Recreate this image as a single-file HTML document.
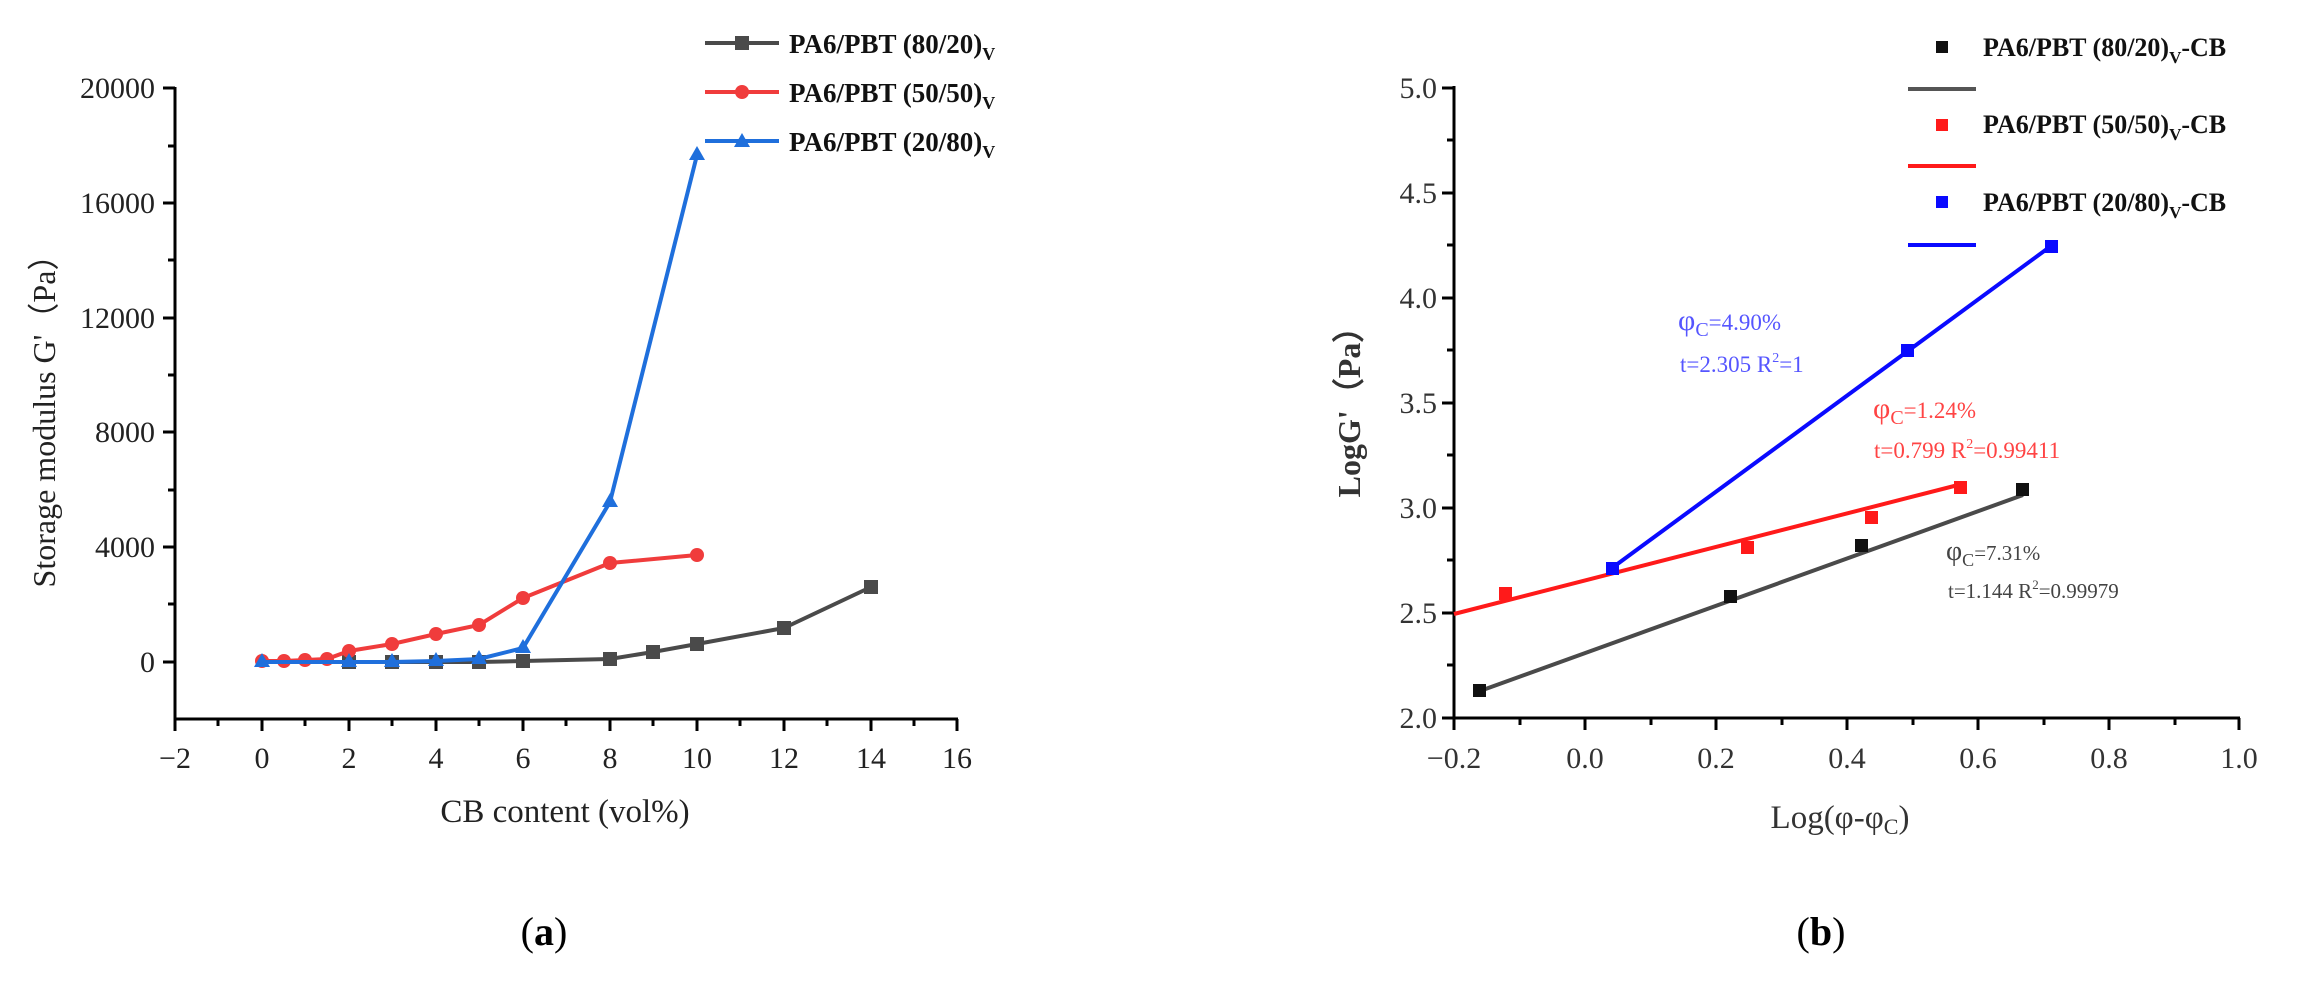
<!DOCTYPE html>
<html><head><meta charset="utf-8"><style>
html,body{margin:0;padding:0;background:#fff;}
svg{display:block;}
text{font-family:"Liberation Serif","DejaVu Serif",serif;}
</style></head><body>
<svg width="2300" height="986" viewBox="0 0 2300 986" xmlns="http://www.w3.org/2000/svg">
<rect width="2300" height="986" fill="#fff"/>
<g stroke="#000" stroke-width="3" fill="none">
<line x1="175" y1="87" x2="175" y2="719"/>
<line x1="174" y1="719" x2="958" y2="719"/>
<line x1="163" y1="88" x2="175" y2="88"/>
<line x1="163" y1="203" x2="175" y2="203"/>
<line x1="163" y1="318" x2="175" y2="318"/>
<line x1="163" y1="432" x2="175" y2="432"/>
<line x1="163" y1="547" x2="175" y2="547"/>
<line x1="163" y1="662" x2="175" y2="662"/>
<line x1="168" y1="146" x2="175" y2="146"/>
<line x1="168" y1="260" x2="175" y2="260"/>
<line x1="168" y1="375" x2="175" y2="375"/>
<line x1="168" y1="490" x2="175" y2="490"/>
<line x1="168" y1="604" x2="175" y2="604"/>
<line x1="175" y1="719" x2="175" y2="731"/><line x1="262" y1="719" x2="262" y2="731"/>
<line x1="349" y1="719" x2="349" y2="731"/><line x1="436" y1="719" x2="436" y2="731"/>
<line x1="523" y1="719" x2="523" y2="731"/><line x1="610" y1="719" x2="610" y2="731"/>
<line x1="697" y1="719" x2="697" y2="731"/><line x1="784" y1="719" x2="784" y2="731"/>
<line x1="871" y1="719" x2="871" y2="731"/><line x1="957" y1="719" x2="957" y2="731"/>
<line x1="218" y1="719" x2="218" y2="726"/><line x1="305" y1="719" x2="305" y2="726"/>
<line x1="392" y1="719" x2="392" y2="726"/><line x1="479" y1="719" x2="479" y2="726"/>
<line x1="566" y1="719" x2="566" y2="726"/><line x1="653" y1="719" x2="653" y2="726"/>
<line x1="740" y1="719" x2="740" y2="726"/><line x1="827" y1="719" x2="827" y2="726"/>
<line x1="914" y1="719" x2="914" y2="726"/>
</g>
<g font-size="30" text-anchor="end" fill="#222">
<text x="155" y="98">20000</text>
<text x="155" y="213">16000</text>
<text x="155" y="328">12000</text>
<text x="155" y="442">8000</text>
<text x="155" y="557">4000</text>
<text x="155" y="672">0</text>
</g>
<g font-size="30" text-anchor="middle" fill="#222">
<text x="175" y="768">−2</text><text x="262" y="768">0</text><text x="349" y="768">2</text>
<text x="436" y="768">4</text><text x="523" y="768">6</text><text x="610" y="768">8</text>
<text x="697" y="768">10</text><text x="784" y="768">12</text><text x="871" y="768">14</text>
<text x="957" y="768">16</text>
</g>
<text x="565" y="822" font-size="33" text-anchor="middle" fill="#222">CB content  (vol%)</text>
<text transform="translate(55,413) rotate(-90)" font-size="32" text-anchor="middle" fill="#222">Storage modulus G'（Pa）</text>
<text x="544" y="945" font-size="40" text-anchor="middle" fill="#000">(<tspan font-weight="bold">a</tspan>)</text>

<polyline fill="none" stroke="#4a4a4a" stroke-width="4" points="262,662 349,662 392,662 436,662 479,662 523,661 610,659 653,652 697,644 784,628 871,587"/>
<g fill="#4a4a4a">
<rect x="342" y="655" width="14" height="14"/><rect x="385" y="655" width="14" height="14"/>
<rect x="429" y="655" width="14" height="14"/><rect x="472" y="655" width="14" height="14"/>
<rect x="516" y="654" width="14" height="14"/><rect x="603" y="652" width="14" height="14"/>
<rect x="646" y="645" width="14" height="14"/><rect x="690" y="637" width="14" height="14"/>
<rect x="777" y="621" width="14" height="14"/><rect x="864" y="580" width="14" height="14"/>
</g>
<polyline fill="none" stroke="#f03c3c" stroke-width="4" points="262,661 284,661 305,660 327,659 349,651 392,644 436,634 479,625 523,598 610,563 697,555"/>
<g fill="#f03c3c">
<circle cx="262" cy="661" r="7"/><circle cx="284" cy="661" r="7"/><circle cx="305" cy="660" r="7"/>
<circle cx="327" cy="659" r="7"/><circle cx="349" cy="651" r="7"/><circle cx="392" cy="644" r="7"/>
<circle cx="436" cy="634" r="7"/><circle cx="479" cy="625" r="7"/><circle cx="523" cy="598" r="7"/>
<circle cx="610" cy="563" r="7"/><circle cx="697" cy="555" r="7"/>
</g>
<polyline fill="none" stroke="#1f6fdc" stroke-width="4" points="262,662 349,662 392,662 436,661 479,659 523,648 610,502 697,155"/>
<g fill="#1f6fdc">
<polygon points="262,653 270,667 254,667"/><polygon points="349,653 357,667 341,667"/>
<polygon points="392,653 400,667 384,667"/><polygon points="436,652 444,666 428,666"/>
<polygon points="479,650 487,664 471,664"/><polygon points="523,639 531,653 515,653"/>
<polygon points="610,493 618,507 602,507"/><polygon points="697,146 705,160 689,160"/>
</g>
<g stroke-width="4">
<line x1="705" y1="43" x2="779" y2="43" stroke="#4a4a4a"/>
<line x1="705" y1="92" x2="779" y2="92" stroke="#f03c3c"/>
<line x1="705" y1="141" x2="779" y2="141" stroke="#1f6fdc"/>
</g>
<rect x="735" y="36" width="14" height="14" fill="#4a4a4a"/>
<circle cx="742" cy="92" r="7" fill="#f03c3c"/>
<polygon points="742,133 750,147 734,147" fill="#1f6fdc"/>
<g font-size="27" font-weight="bold" fill="#111">
<text x="789" y="53">PA6/PBT (80/20)<tspan font-size="18" dy="7">V</tspan></text>
<text x="789" y="102">PA6/PBT (50/50)<tspan font-size="18" dy="7">V</tspan></text>
<text x="789" y="151">PA6/PBT (20/80)<tspan font-size="18" dy="7">V</tspan></text>
</g>

<g stroke="#000" stroke-width="3" fill="none">
<line x1="1454" y1="86" x2="1454" y2="718"/>
<line x1="1453" y1="718" x2="2240" y2="718"/>
<line x1="1442" y1="88" x2="1454" y2="88"/><line x1="1442" y1="193" x2="1454" y2="193"/>
<line x1="1442" y1="298" x2="1454" y2="298"/><line x1="1442" y1="403" x2="1454" y2="403"/>
<line x1="1442" y1="508" x2="1454" y2="508"/><line x1="1442" y1="613" x2="1454" y2="613"/>
<line x1="1442" y1="718" x2="1454" y2="718"/>
<line x1="1447" y1="140" x2="1454" y2="140"/><line x1="1447" y1="245" x2="1454" y2="245"/>
<line x1="1447" y1="350" x2="1454" y2="350"/><line x1="1447" y1="455" x2="1454" y2="455"/>
<line x1="1447" y1="560" x2="1454" y2="560"/><line x1="1447" y1="665" x2="1454" y2="665"/>
<line x1="1454" y1="718" x2="1454" y2="730"/><line x1="1585" y1="718" x2="1585" y2="730"/>
<line x1="1716" y1="718" x2="1716" y2="730"/><line x1="1847" y1="718" x2="1847" y2="730"/>
<line x1="1978" y1="718" x2="1978" y2="730"/><line x1="2109" y1="718" x2="2109" y2="730"/>
<line x1="2239" y1="718" x2="2239" y2="730"/>
<line x1="1520" y1="718" x2="1520" y2="725"/><line x1="1651" y1="718" x2="1651" y2="725"/>
<line x1="1782" y1="718" x2="1782" y2="725"/><line x1="1913" y1="718" x2="1913" y2="725"/>
<line x1="2044" y1="718" x2="2044" y2="725"/><line x1="2175" y1="718" x2="2175" y2="725"/>
</g>
<g font-size="30" text-anchor="end" fill="#333">
<text x="1437" y="98">5.0</text><text x="1437" y="203">4.5</text><text x="1437" y="308">4.0</text>
<text x="1437" y="413">3.5</text><text x="1437" y="518">3.0</text><text x="1437" y="623">2.5</text>
<text x="1437" y="728">2.0</text>
</g>
<g font-size="30" text-anchor="middle" fill="#333">
<text x="1454" y="768">−0.2</text><text x="1585" y="768">0.0</text><text x="1716" y="768">0.2</text>
<text x="1847" y="768">0.4</text><text x="1978" y="768">0.6</text><text x="2109" y="768">0.8</text>
<text x="2239" y="768">1.0</text>
</g>
<text x="1840" y="828" font-size="33" text-anchor="middle" fill="#333">Log(φ-φ<tspan font-size="22" dy="6">C</tspan><tspan dy="-6">)</tspan></text>
<text transform="translate(1360,404) rotate(-90)" font-size="32" font-weight="bold" text-anchor="middle" fill="#333">LogG'（Pa）</text>
<text x="1821" y="945" font-size="40" text-anchor="middle" fill="#000">(<tspan font-weight="bold">b</tspan>)</text>

<line x1="1480" y1="691" x2="2023" y2="495" stroke="#4a4a4a" stroke-width="4"/>
<line x1="1454" y1="614" x2="1962" y2="484" stroke="#ff1a1a" stroke-width="4"/>
<line x1="1612" y1="568" x2="2051" y2="246" stroke="#0a0aff" stroke-width="4"/>
<g fill="#111">
<rect x="1473" y="684" width="13" height="13"/><rect x="1724" y="590" width="13" height="13"/>
<rect x="1855" y="539" width="13" height="13"/><rect x="2016" y="483" width="13" height="13"/>
</g>
<g fill="#ff1a1a">
<rect x="1499" y="587" width="13" height="13"/><rect x="1741" y="541" width="13" height="13"/>
<rect x="1865" y="511" width="13" height="13"/><rect x="1954" y="481" width="13" height="13"/>
</g>
<g fill="#0a0aff">
<rect x="1606" y="562" width="13" height="13"/><rect x="1901" y="344" width="13" height="13"/>
<rect x="2045" y="240" width="13" height="13"/>
</g>
<g font-size="23" fill="#5555ff">
<text x="1678" y="330"><tspan font-size="30">φ</tspan><tspan font-size="20" dy="6">C</tspan><tspan dy="-6">=4.90%</tspan></text>
<text x="1680" y="372">t=2.305    R<tspan font-size="14" dy="-10">2</tspan><tspan dy="10">=1</tspan></text>
</g>
<g font-size="23" fill="#ff4444">
<text x="1873" y="418"><tspan font-size="30">φ</tspan><tspan font-size="20" dy="6">C</tspan><tspan dy="-6">=1.24%</tspan></text>
<text x="1874" y="458">t=0.799  R<tspan font-size="14" dy="-10">2</tspan><tspan dy="10">=0.99411</tspan></text>
</g>
<g font-size="21" fill="#444">
<text x="1946" y="560"><tspan font-size="28">φ</tspan><tspan font-size="18" dy="6">C</tspan><tspan dy="-6">=7.31%</tspan></text>
<text x="1948" y="598">t=1.144    R<tspan font-size="13" dy="-9">2</tspan><tspan dy="9">=0.99979</tspan></text>
</g>
<rect x="1936" y="41" width="12" height="12" fill="#111"/>
<rect x="1936" y="119" width="12" height="12" fill="#ff1a1a"/>
<rect x="1936" y="196" width="12" height="12" fill="#0a0aff"/>
<line x1="1908" y1="89" x2="1976" y2="89" stroke="#555" stroke-width="4"/>
<line x1="1908" y1="166" x2="1976" y2="166" stroke="#ff1a1a" stroke-width="4"/>
<line x1="1908" y1="245" x2="1976" y2="245" stroke="#0a0aff" stroke-width="4"/>
<g font-size="26" font-weight="bold" fill="#111">
<text x="1983" y="56">PA6/PBT (80/20)<tspan font-size="17" dy="7">V</tspan><tspan dy="-7">-CB</tspan></text>
<text x="1983" y="133">PA6/PBT (50/50)<tspan font-size="17" dy="7">V</tspan><tspan dy="-7">-CB</tspan></text>
<text x="1983" y="211">PA6/PBT (20/80)<tspan font-size="17" dy="7">V</tspan><tspan dy="-7">-CB</tspan></text>
</g>
</svg>
</body></html>
